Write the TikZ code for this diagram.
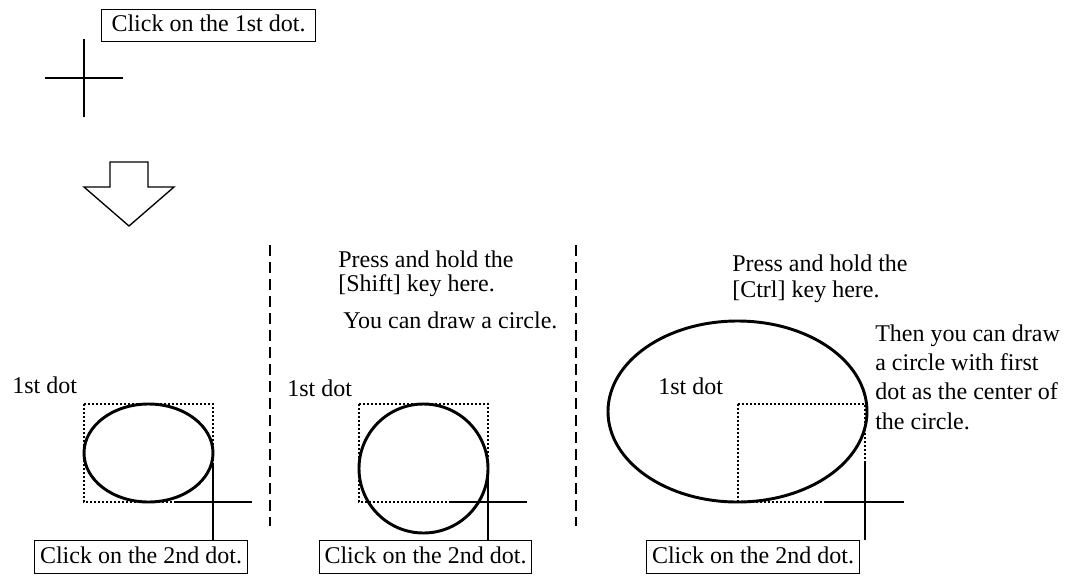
\documentclass[tikz,border=0pt]{standalone}
\usepackage{fontspec}
\setmainfont{Liberation Serif}
\tikzset{
  msgbox/.style={draw, line width=0.8pt, inner xsep=3.8pt, inner ysep=5pt,
    text height=12pt, text depth=2.5pt},
  note/.style={inner sep=0pt, anchor=base west, align=left},
  cursor/.style={line width=1pt},
  guide/.style={line width=0.9pt, dash pattern=on 1.5pt off 1.5pt},
  figline/.style={line width=2.2pt},
  divider/.style={line width=1.5pt, dash pattern=on 8.25pt off 4.5pt},
}
\begin{document}
\begin{tikzpicture}[x=0.75pt,y=-0.75pt,font=\fontsize{18pt}{20pt}\selectfont]
  \useasboundingbox (0,0) rectangle (1076,576);
  % step 1: first click
  \node[msgbox, inner xsep=7.5pt] (first) at (208.5,25.5) {Click on the 1st dot.};
  \coordinate (c0) at (84,78);
  \draw[cursor] (c0) ++(-39,0) -- ++(78,0) (c0) ++(0,-39) -- ++(0,78);
  \draw[line width=1pt] (110,162) -- (148,162) -- (148,187) -- (174,187)
    -- (129,226) -- (84,187) -- (110,187) -- cycle;
  % dividers
  \coordinate (d1t) at (270,245);
  \coordinate (d1b) at (270,526);
  \coordinate (d2t) at (576,245);
  \coordinate (d2b) at (576,526);
  \draw[divider] (d1t) -- (d1b);
  \draw[divider] (d2t) -- (d2b);
  % panel 1: plain drag
  \coordinate (a1) at (84,404);
  \coordinate (a2) at (213,502);
  \node[note] (dot1) at (12,393) {1st dot};
  \draw[guide] (a1) rectangle (a2);
  \draw[figline] (148.5,453) ellipse [x radius=64.5, y radius=49];
  \node[msgbox] (second1) at (141,557) {Click on the 2nd dot.};
  \draw[cursor] (a2) ++(-39,0) -- ++(78,0) (a2) ++(0,-39) -- (second1.north -| a2);
  % panel 2: with Shift (base = last line)
  \coordinate (b1) at (359,404);
  \coordinate (b2) at (488,502);
  \node[note] (shift) at (338,291) {Press and hold the\\[-2pt]{[Shift]} key here.};
  \node[note] (round) at (343,328) {You can draw a circle.};
  \node[note] (dot2) at (287,396) {1st dot};
  \draw[guide] (b1) rectangle (b2);
  \draw[figline] (423.5,468.5) circle [radius=64.5];
  \node[msgbox] (second2) at (425.5,557) {Click on the 2nd dot.};
  \draw[cursor] (b2) ++(-39,0) -- ++(78,0) (b2) ++(0,-39) -- (second2.north -| b2);
  % panel 3: with Ctrl
  \coordinate (e1) at (738,404);
  \coordinate (e2) at (865,502);
  \node[note] (ctrl) at (732,297) {Press and hold the\\[-1pt]{[Ctrl]} key here.};
  \node[note] (centre) at (875,429) {Then you can draw\\[2pt]a circle with first\\[2pt]dot as the center of\\[2pt]the circle.};
  \draw[figline] (737.5,411.5) ellipse [x radius=129.5, y radius=90.5];
  \node[note] (dot3) at (658,394) {1st dot};
  \draw[guide] (e1) rectangle (e2);
  \node[msgbox] (second3) at (753,557) {Click on the 2nd dot.};
  \draw[cursor] (e2) ++(-39,0) -- ++(78,0) (e2) ++(0,-39) -- (second3.north -| e2);
\end{tikzpicture}
\end{document}
